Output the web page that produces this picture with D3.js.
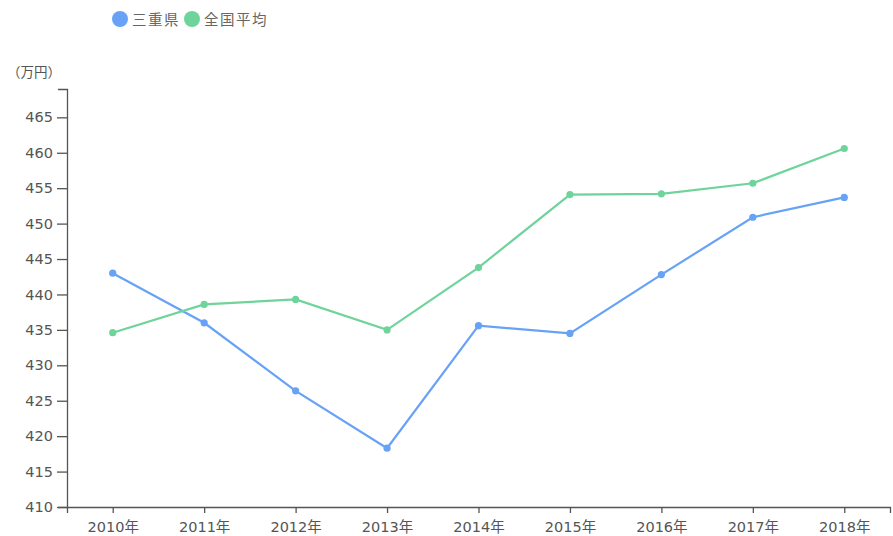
<!DOCTYPE html>
<html><head><meta charset="utf-8">
<script src="https://cdn.jsdelivr.net/npm/d3@7"></script>
<style>
body{margin:0;background:#fff;}
svg text{font-family:"DejaVu Sans","Noto Sans CJK JP",sans-serif;}
</style></head>
<body><svg id="c" width="893" height="536"></svg>
<script>
const years = ["2010年","2011年","2012年","2013年","2014年","2015年","2016年","2017年","2018年"];
const mie = [443.0, 436.0, 426.4, 418.3, 435.6, 434.5, 442.8, 450.9, 453.7];
const national = [434.6, 438.6, 439.3, 435.0, 443.8, 454.1, 454.2, 455.7, 460.6];
const seriesNames = ["三重県","全国平均"];
const colors = ["#67a2f7","#6fd49b"];
const yTicks = [410,415,420,425,430,435,440,445,450,455,460,465];

(function(){
const svg = d3.select("#c");
const mLeft = 67, mRight = 890, mTop = 89, mBottom = 507;
const x = d3.scalePoint().domain(years).range([mLeft, mRight]).padding(0.5);
const y = d3.scaleLinear().domain([410, 469]).range([mBottom, mTop]);

const gx = svg.append("g").attr("transform",`translate(0,${mBottom})`)
  .call(d3.axisBottom(x).tickSize(6).tickSizeOuter(6).tickPadding(5));
const gy = svg.append("g").attr("transform",`translate(${mLeft},0)`)
  .call(d3.axisLeft(y).tickValues(yTicks).tickSize(10).tickSizeOuter(9).tickPadding(4));
[gx,gy].forEach(g=>{
  g.selectAll("path,line").attr("stroke","#555").attr("stroke-width",1.3);
  g.selectAll("text").attr("fill","#555").style("font-size","14.5px")
    .style("font-family",'"DejaVu Sans","Noto Sans CJK JP",sans-serif');
});
gx.selectAll("text").attr("dy","0.95em");

svg.append("text").attr("x",7).attr("y",77).attr("fill","#555")
  .style("font-family",'"Noto Sans CJK JP",sans-serif')
  .style("font-size","13.5px").text("（万円）");

const data = [mie, national];
const line = d3.line().x((d,i)=>x(years[i])).y(d=>y(d));
data.forEach((s,k)=>{
  svg.append("path").datum(s).attr("d",line).attr("fill","none")
    .attr("stroke",colors[k]).attr("stroke-width",2.2);
  svg.selectAll(null).data(s).enter().append("circle")
    .attr("cx",(d,i)=>x(years[i])).attr("cy",d=>y(d)).attr("r",3.6)
    .attr("fill",colors[k]);
});

const lg = svg.append("g");
const lx = [120, 192];
seriesNames.forEach((n,k)=>{
  lg.append("circle").attr("cx",lx[k]).attr("cy",19).attr("r",8).attr("fill",colors[k]);
  lg.append("text").attr("x",lx[k]+12).attr("y",24.5).attr("fill","#666")
    .style("font-family",'"Noto Sans CJK JP",sans-serif')
    .style("letter-spacing","1.5px")
    .style("font-size","14.5px").text(n);
});
})();
</script></body></html>
